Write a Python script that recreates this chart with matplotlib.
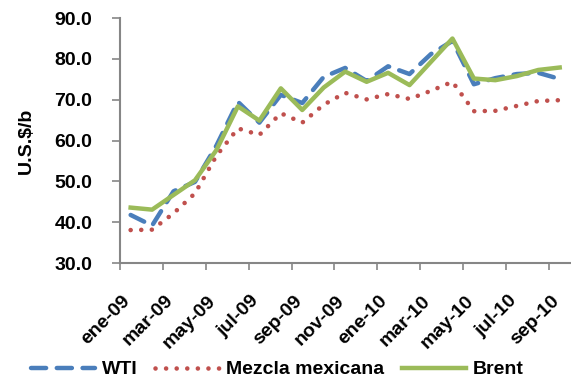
import matplotlib.pyplot as plt
from matplotlib.ticker import FixedLocator, FormatStrFormatter
from matplotlib.transforms import offset_copy

plt.rcParams.update({
    "font.family": ["Liberation Sans", "DejaVu Sans"],
    "font.weight": "bold",
    "axes.labelweight": "bold",
    "font.size": 14,
})

# Monthly crude oil prices, Jan 2009 - Sep 2010 (US$/barrel).
MONTHS = ["ene-09", "feb-09", "mar-09", "abr-09", "may-09", "jun-09", "jul-09",
          "ago-09", "sep-09", "oct-09", "nov-09", "dic-09", "ene-10", "feb-10",
          "mar-10", "abr-10", "may-10", "jun-10", "jul-10", "ago-10", "sep-10"]
WTI = [41.8, 39.2, 47.6, 49.9, 58.8, 69.5, 64.4, 71.2, 69.2, 75.6, 77.8,
       74.6, 78.2, 76.3, 81.2, 84.4, 73.8, 75.3, 76.3, 76.6, 75.1]
MEZCLA = [38.1, 38.2, 42.2, 47.1, 56.3, 63.0, 61.4, 66.7, 64.4, 68.8, 71.7,
          70.1, 71.4, 70.2, 72.2, 74.4, 67.2, 67.3, 68.5, 69.7, 69.9]
BRENT = [43.6, 43.1, 46.7, 50.3, 57.7, 68.4, 64.9, 72.8, 67.5, 73.0, 76.9,
         74.4, 76.6, 73.6, 79.3, 85.0, 75.2, 74.8, 75.8, 77.3, 77.9]

x = list(range(len(MONTHS)))
axis_grey = "#868686"

fig = plt.figure(figsize=(5.71, 3.77), dpi=100)
ax = fig.add_axes([0.21, 0.302, 0.789, 0.65])

ax.plot(x, WTI, color="#4A7EBB", lw=3.2, linestyle=(0, (3.4, 2.4)),
        dash_capstyle="round", label="WTI")
ax.plot(x, MEZCLA, color="#C0504D", lw=3.3, linestyle=(0, (0.01, 2.3)),
        dash_capstyle="round", label="Mezcla mexicana")
ax.plot(x, BRENT, color="#9BBB59", lw=3.2, solid_joinstyle="round",
        label="Brent")

ax.set_xlim(-0.5, len(MONTHS) - 0.5)
ax.set_ylim(30, 90)
ax.set_yticks(range(30, 91, 10))
ax.yaxis.set_major_formatter(FormatStrFormatter("%.1f"))
ax.set_ylabel("U.S.$/b", labelpad=14)

# Tick marks between categories, a rotated label every second month.
ax.xaxis.set_major_locator(FixedLocator([i - 0.5 for i in range(0, len(MONTHS) + 1, 2)]))
ax.set_xticklabels([])
ax.tick_params(axis="x", length=5, color=axis_grey, width=1.2)
ax.tick_params(axis="y", length=6, color=axis_grey, width=1.2, pad=14)

label_tf = offset_copy(ax.get_xaxis_transform(), fig=fig, x=-3, y=-35, units="dots")
for i in x[::2]:
    ax.text(i, 0, MONTHS[i], transform=label_tf, rotation=45,
            rotation_mode="anchor", ha="right", va="center", fontsize=14)

for side in ("top", "right"):
    ax.spines[side].set_visible(False)
for side in ("left", "bottom"):
    ax.spines[side].set_color(axis_grey)
    ax.spines[side].set_linewidth(1.5)

fig.legend(loc="lower center", bbox_to_anchor=(0.486, -0.05), ncol=3,
           frameon=False, handlelength=3.3, handletextpad=0.35,
           columnspacing=0.9, fontsize=14)

fig.savefig("out.png", dpi=100)
